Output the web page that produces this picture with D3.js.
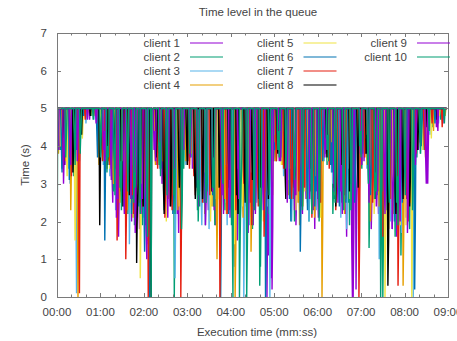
<!DOCTYPE html>
<html>
<head>
<meta charset="utf-8">
<script src="https://cdn.jsdelivr.net/npm/d3@7"></script>
<style>
  body { margin: 0; background: #fff; }
  svg { display: block; }
  text { font-family: "Liberation Sans", Arial, sans-serif; font-size: 11.5px; fill: #444; }
</style>
</head>
<body>
<svg id="chart"></svg>
<script>
// Series names and gnuplot default colours
const clientNames = ['client 1', 'client 2', 'client 3', 'client 4', 'client 5',
                     'client 6', 'client 7', 'client 8', 'client 9', 'client 10'];
const clientColors = ['#9400d3', '#009e73', '#56b4e9', '#e69f00', '#f0e442',
                      '#0072b2', '#e51e10', '#000000', '#9400d3', '#009e73'];

// Each client rests at the 5 s level. Every entry is a run of samples below it:
// [first second, value, value, ...] with one sample per second.
const client1 = [[3,4.2,3.9,4.6],[11,3.5,4.1],[19,4.0,3.3,4.4],[33,4.4,4.8],[45,4.7],[57,3.8,4.3,4.0],[67,3.7,4.2,3.4],[76,3.2,2.5,3.9],[85,1.6,2.9,3.6],[93,2.4,3.5,2.9],[103,2.0,3.2,2.6],[113,2.6,1.8,3.4],[122,1.9,2.8,1.4],[136,3.8,4.2,3.5],[145,3.0,3.6,4.1],[155,3.3,2.4,3.9],[166,2.2,3.1,1.7],[176,3.9,4.3,3.6],[187,3.4,4.0,3.7],[197,2.8,3.5,4.1],[208,3.1,2.3,3.8],[217,2.5,3.4,1.9],[229,3.3,2.2,3.9],[239,2.1,3.0,2.6],[249,1.5,2.7,3.4],[258,3.2,2.4],[270,2.9,1.9,3.6],[290,0,2.4,1.1],[296,0.5,3.0],[306,4.0,3.6,4.4],[316,3.5,4.1,3.0],[330,1.9,2.8,3.5],[343,3.5,2.6,4.1],[354,2.3,3.2,1.8],[366,4.0,4.4,3.8],[376,3.6,4.2,3.9],[387,3.4,2.5,3.9],[398,2.2,3.1,1.6],[409,0,1.8],[413,0.2,2.5,3.3],[424,3.6,4.1,3.8],[434,1.8,2.7,3.5],[443,3.1,2.2],[452,2.7,1.9,3.3],[461,2.5,3.4,1.8],[469,1.6,2.6,3.1],[481,2.9,2.1,3.7],[490,2.2,3.0],[499,3.9,4.4,4.1],[512,3.0,4.2],[524,4.5],[533,4.6]];
const client2 = [[5,3.9,4.5,3.4],[14,4.4,3.8],[23,3.2,4.0,2.9],[31,3.6,4.3],[48,4.8],[59,4.1,3.6,4.6],[69,3.3,4.0,3.9],[78,2.8,3.7,3.3],[88,3.6,2.7,3.2],[98,2.2,3.1,2.6],[107,1.9,2.8,3.5],[117,2.7,1.9,3.3],[125,1.5,2.6],[138,4.1,3.6,4.4],[148,2.3,3.3,2.7],[156,3.8,2.9],[162,0,2.6],[174,3.9,3.4,4.2],[185,3.7,4.3,3.9],[195,2.0,2.9,2.4],[206,3.7,2.8,3.2],[216,2.4,3.3,1.9],[231,3.1,2.3,3.7],[241,1.9,2.8],[252,0,1.6,2.9],[268,2.5,3.3,1.8],[281,0.8,2.4],[292,3.0,2.2,3.6],[303,3.6,4.2,3.9],[314,3.8,4.3,3.4],[326,2.6,3.5,2.0],[337,3.2,2.4,3.9],[348,2.0,2.9,3.4],[359,3.5,2.6,3.1],[371,3.8,4.4,3.5],[381,2.2,3.0,2.6],[392,3.6,2.7,3.2],[402,2.5,3.4,1.9],[420,3.9,3.4,4.3],[431,1.3,2.5,3.0],[440,3.4,2.6],[450,0,1.9,2.8],[465,2.2,3.1,1.6],[475,1.1,2.4,2.9],[486,2.6,1.8,3.3],[497,3.7,4.3],[506,4.2,3.9],[519,4.5],[530,4.7]];
const client3 = [[7,4.5,3.8],[16,3.4,4.2,3.0],[26,2.8,0.1,3.4],[40,4.6],[51,4.7],[62,3.9,4.4,3.5],[72,4.0,3.2],[81,2.3,3.3,2.8],[90,3.3,2.4,3.9],[100,1.4,2.7,3.2],[110,2.9,2.1,3.6],[120,2.1,3.0],[127,3.5,1.2],[140,3.7,4.2,3.4],[150,3.0,2.2,3.7],[163,0.5,2.3],[177,4.0,3.5,4.4],[188,3.9,3.3,4.2],[199,2.7,1.9,3.4],[210,1.8,2.9,2.4],[219,3.3,2.6,3.8],[233,2.5,3.4,1.9],[244,1.6,0.8,2.7],[258,0,2.2],[266,1.9,3.0,2.4],[275,3.4,2.5,3.8],[294,0,1.6],[301,4.2,3.7,4.5],[311,3.5,4.0,3.2],[324,2.0,2.8,3.5],[335,3.7,2.9,3.3],[346,2.5,3.4,2.0],[357,3.1,2.3,3.8],[368,4.1,3.6,4.4],[379,3.3,4.0,3.0],[390,2.6,3.5,2.1],[400,1.8,2.7],[420,4.2,3.7,4.5],[428,3.4,4.0],[437,3.5,2.6,3.0],[445,1.0,2.3],[460,2.9,2.0,3.5],[474,2.0,2.8,1.7],[484,3.3,2.5],[492,0,1.4],[502,3.8,4.4],[515,4.3],[527,4.6]];
const client4 = [[2,3.8,4.4],[10,4.3,3.6,4.0],[19,2.3,3.5],[28,3.0,0,2.2],[43,4.9],[58,3.5,4.1,4.4],[68,3.9,3.4],[77,3.7,3.0,3.4],[87,2.5,3.4,2.9],[96,3.2,2.3,3.8],[105,2.1,3.0,2.6],[115,3.4,2.7],[124,2.3,1.5],[135,4.0,3.5,4.3],[144,3.4,4.0,3.6],[153,3.4,2.6,3.9],[167,2.3,3.2,2.7],[177,4.2,3.6],[183,3.5,4.1,3.8],[193,3.6,2.8,3.3],[204,2.2,3.0,2.5],[213,3.2,2.4],[220,2.6,1.0,2.9],[232,2.6,3.5,2.2],[246,0,1.3],[256,3.0,2.1,3.6],[268,1.2,2.4,3.0],[278,2.9,3.7,2.4],[287,3.7,2.8],[299,3.9,4.3,3.6],[310,4.1,3.5,4.4],[320,2.7,3.5],[333,2.5,3.3,1.9],[344,3.4,2.6,3.9],[355,2.8,2.1,3.4],[366,0,2.0],[377,3.8,4.3,3.5],[388,3.7,2.9,3.2],[397,2.2,3.0,2.6],[406,3.0,2.3],[420,3.6,4.2,3.9],[433,2.0,2.9,3.5],[444,3.1,2.4],[456,2.3,3.1,1.8],[464,2.9,2.2,3.4],[478,0.3,1.9],[488,2.5,3.3,2.0],[498,4.0,4.5],[508,4.2,3.7],[520,4.4],[536,4.8]];
const client5 = [[4,4.6,4.0],[13,3.9,3.2,4.4],[24,3.6,1.5,2.9],[35,4.2,4.7],[49,4.8],[61,4.3,3.9],[71,3.6,4.2,3.4],[80,3.9,3.1],[91,2.6,3.5,3.0],[101,3.4,2.5,3.9],[110,2.8,2.3,3.2],[115,0.5,2.1],[126,2.9,3.6],[139,3.9,4.4,3.6],[149,2.6,3.4,2.0],[159,3.9,3.0],[169,2.4,3.3,2.8],[180,4.2,3.7],[191,2.9,3.6,3.5],[202,3.8,3.0,3.4],[212,2.0,2.8,3.3],[223,3.4,2.6],[235,2.8,3.6,2.3],[245,1.4,2.6],[255,3.2,2.4,3.7],[265,2.6,3.4],[276,3.9,3.1,3.5],[285,2.0,2.9],[297,3.5,2.7],[308,3.8,4.3,3.5],[319,3.9,3.1],[329,3.0,2.3,3.6],[340,2.4,3.2,2.8],[351,3.6,2.8],[362,2.6,3.4,2.1],[373,4.0,3.6,4.4],[384,2.7,3.5],[395,3.8,3.0,3.4],[405,2.6,3.3],[416,3.4,2.6,3.0],[426,3.9,4.4,3.5],[438,2.2,3.0],[453,0,1.7,2.6],[462,3.0,2.3],[472,2.4,3.2,1.9],[482,1.9,2.7],[490,0,2.4],[504,4.4,3.9],[517,4.2],[528,4.8]];
const client6 = [[6,4.0,3.3],[17,3.1,4.0,3.6],[26,4.5,3.9],[37,4.8],[55,4.4,3.7],[66,1.5,3.4,4.0],[75,3.4,3.9],[84,2.7,3.5,3.2],[94,3.8,3.0,3.4],[103,2.2,3.1,2.6],[112,3.2,2.4],[120,2.5,1.2,2.8],[128,0,2.2],[142,3.7,4.3,3.4],[152,3.6,2.8,3.2],[160,2.2,3.0],[170,3.2,2.4,3.7],[181,3.6,4.2],[192,3.7,2.9,3.3],[203,2.5,3.3,1.9],[214,3.5,2.7],[226,0,2.0],[236,2.9,2.2,3.4],[250,2.2,3.0],[260,3.5,2.7,3.1],[271,2.4,3.2],[288,0,1.9,2.6],[299,3.6,4.1,3.9],[309,3.7,4.3],[321,2.6,3.4,2.0],[336,1.2,2.5],[345,3.1,2.3,3.7],[356,2.4,3.2,2.8],[367,3.6,4.2],[378,3.5,4.1,3.3],[389,3.1,2.4,3.6],[399,2.5,3.3],[410,3.3,2.5,3.0],[422,3.8,4.3],[432,3.5,2.7,3.2],[442,2.7,3.4],[455,3.1,2.3],[466,2.0,2.8,3.3],[476,3.2,2.5],[485,2.1,2.9],[494,0.2,2.2],[503,4.0,4.5],[522,4.6]];
const client7 = [[8,4.3,3.6],[18,3.7,4.3,3.2],[30,2.4,0.1],[39,4.7],[53,4.8],[63,3.6,4.2,4.1],[73,3.5,4.0],[83,1.5,2.6,3.2],[95,1.0,2.3],[104,2.7,3.5,2.2],[113,3.3,2.5],[119,2.4,3.1],[126,0,1.9],[139,3.4,4.0,3.8],[149,2.1,2.9,3.5],[158,3.0,2.3],[171,0,2.1],[182,3.9,3.4],[189,3.2,3.8,2.7],[200,3.3,2.5,3.8],[211,2.7,3.5],[225,0,1.8],[234,3.0,2.2,3.6],[247,2.3,3.1],[257,3.8,3.0,3.4],[267,2.5,3.3,1.9],[277,3.2,2.4],[286,1.6,2.7],[302,4.1,3.6,4.4],[313,3.4,4.0],[323,3.4,2.6,3.1],[334,2.8,3.6],[341,3.6,2.9],[352,2.1,2.9,3.4],[363,3.3,2.5],[374,3.9,4.3,3.4],[385,2.3,3.1],[396,3.5,2.7,3.2],[417,0,1.6],[425,3.7,4.2,3.9],[436,2.5,3.3],[448,2.0,2.8,1.6],[459,3.4,2.6],[471,0.3,1.8],[483,2.6,3.4,2.0],[496,3.8,4.3],[507,4.3,3.9],[518,4.6],[532,4.5]];
const client8 = [[9,4.1,3.5],[22,3.3,4.0],[34,4.3],[46,4.8],[59,1.9,3.6,4.2],[70,3.5,4.1],[79,4.1,3.4],[89,2.8,3.6,2.4],[99,3.5,2.7],[110,0.9,2.4,3.0],[118,3.1,2.4],[129,2.8,0],[137,3.7,4.3],[147,2.9,2.2,3.4],[157,2.4,3.2],[168,3.7,2.9,3.3],[179,4.1,3.5],[190,3.4,2.6,3.0],[201,2.6,3.4],[213,3.5,2.8,3.2],[224,2.9,3.6],[237,3.6,2.9],[248,2.7,3.4,2.2],[259,3.2,2.5],[269,3.9,3.1],[279,2.6,3.3,2.9],[291,3.4,2.6],[304,4.3,3.8,4.6],[315,3.3,2.6],[327,3.6,2.9,3.3],[339,2.9,3.6],[350,3.5,2.8,3.2],[361,2.7,3.4],[372,4.2,3.7],[383,2.9,3.6,2.4],[393,3.2,2.5],[404,2.8,3.5,3.0],[415,3.7,2.9],[427,3.8,4.3,3.5],[439,3.3,2.6],[457,0.3,1.5],[467,2.8,2.2,3.3],[477,3.4,2.6],[487,2.4,3.1],[498,3.9,4.4],[511,4.5],[525,4.7]];
const client9 = [[1,4.4,3.9],[9,3.0,3.8],[18,4.1,3.5],[28,3.6,4.3],[42,4.7],[54,4.6],[64,3.9,4.4,3.6],[74,3.9,3.1],[82,2.1,3.0,2.6],[92,2.9,2.2,3.5],[102,2.6,3.4],[108,1.7,2.5],[116,2.2,3.0,2.6],[123,1.8,1.0],[134,3.9,4.4,3.6],[143,3.4,4.0],[152,2.9,2.1,3.5],[161,3.5,2.8],[173,3.7,4.2,3.9],[184,3.7,4.3],[194,3.2,2.4,3.7],[205,1.9,2.7],[215,2.8,3.6,2.3],[227,3.5,2.7],[238,2.3,3.1,2.7],[250,3.4,2.6],[264,1.7,2.6,3.2],[274,2.2,3.0],[284,3.0,2.3,3.6],[297,0.2,1.9],[307,3.9,4.4,3.6],[317,3.3,2.5],[328,2.3,3.1,2.7],[338,3.0,2.2],[349,2.6,3.4,3.0],[360,2.9,2.1],[370,3.7,4.2,3.9],[382,3.6,2.8],[392,2.8,3.5,2.2],[407,1.5,0],[419,3.8,4.3,3.5],[430,3.3,2.5],[441,2.4,3.2,2.8],[452,3.0,2.2],[463,1.8,2.7,3.3],[473,2.7,2.0],[484,1.7,2.6],[495,3.5,4.1],[509,3.8,3.0,4.2],[526,4.4]];
const client10 = [[0,0],[12,3.7,4.3],[24,4.2,3.5],[32,3.8,4.4],[50,4.7],[60,3.7,4.3],[69,3.4,4.0,3.7],[79,3.5,2.7],[87,2.9,3.6,2.3],[97,3.6,2.8],[106,2.5,3.3,2.9],[114,3.0,2.2],[124,2.7,1.6],[130,0],[141,3.5,4.1,3.2],[151,3.5,2.7],[161,2.7,3.4,2.2],[172,1.8,2.6],[183,3.8,4.3],[194,2.3,3.1,2.7],[205,3.3,2.5],[215,2.9,3.7,2.4],[228,3.8,3.0],[242,2.0,0],[253,2.0,2.8,3.4],[262,0,1.5],[272,3.0,2.3],[280,0.3,2.0,2.7],[293,2.7,3.5],[305,3.9,4.4,3.7],[316,3.4,4.0],[327,3.9,3.1,3.5],[339,2.3,3.0],[351,2.9,2.2,3.5],[362,2.0,2.8],[373,3.9,4.3,3.6],[384,2.5,3.3],[395,3.0,2.3,3.6],[406,2.3,3.1],[418,4.0,4.4,3.7],[429,3.8,3.0],[439,2.6,3.3,2.8],[447,0,1.6],[458,3.2,2.5],[469,2.5,3.2,1.9],[480,3.5,2.7],[491,2.3,3.0],[501,4.3,3.8],[514,4.4],[535,4.6]];
const clientRuns = [client1, client2, client3, client4, client5, client6, client7, client8, client9, client10];

const BASE_LEVEL = 5;       // resting level of every client (s)
const END_TIME = 538;       // last sample (s)
const SAMPLE_STEP = 1;      // seconds between samples
const dataGaps = [[131.3, 132.3]]; // short break in all the logs

// Axis ticks
const xTickSeconds = [0, 60, 120, 180, 240, 300, 360, 420, 480, 540];
const xMinorStep = 20;
const yTicks = [0, 1, 2, 3, 4, 5, 6, 7];

// Turn the run list into a point list for d3.line
function buildSeries(runs) {
  const pts = [];
  if (runs[0][0] > 0) pts.push({ t: 0, v: BASE_LEVEL });
  runs.forEach(run => {
    const start = run[0], vals = run.slice(1);
    if (start > 0) pts.push({ t: start - SAMPLE_STEP, v: BASE_LEVEL });
    vals.forEach((v, k) => pts.push({ t: start + k * SAMPLE_STEP, v: v }));
    pts.push({ t: start + vals.length * SAMPLE_STEP, v: BASE_LEVEL });
  });
  pts.push({ t: END_TIME, v: BASE_LEVEL });
  dataGaps.forEach(([g0, g1]) => {
    pts.push({ t: g0, v: BASE_LEVEL }, { t: (g0 + g1) / 2, v: null }, { t: g1, v: BASE_LEVEL });
  });
  return pts.sort((a, b) => a.t - b.t);
}

function formatMMSS(s) {
  const m = Math.floor(s / 60), sec = s % 60;
  return String(m).padStart(2, '0') + ':' + String(sec).padStart(2, '0');
}

function drawChart() {
  const width = 457, height = 341;
  const margin = { top: 33, right: 9, bottom: 44, left: 57 };
  const innerWidth = width - margin.left - margin.right;
  const innerHeight = height - margin.top - margin.bottom;

  const svg = d3.select('#chart').attr('width', width).attr('height', height);

  const x = d3.scaleLinear().domain([0, 540]).range([0, innerWidth]);
  const y = d3.scaleLinear().domain([0, 7]).range([innerHeight, 0]);

  const g = svg.append('g').attr('transform', `translate(${margin.left},${margin.top})`);

  svg.append('defs').append('clipPath').attr('id', 'plot-clip')
    .append('rect').attr('width', innerWidth).attr('height', innerHeight);

  // Series
  const line = d3.line()
    .defined(d => d.v !== null)
    .x(d => x(d.t))
    .y(d => y(d.v));

  const series = g.append('g').attr('clip-path', 'url(#plot-clip)');
  clientRuns.forEach((runs, i) => {
    series.append('path')
      .attr('d', line(buildSeries(runs)))
      .attr('fill', 'none')
      .attr('stroke', clientColors[i])
      .attr('stroke-width', 1.4);
  });

  // Ticks (gnuplot style: inward, mirrored)
  const axisColor = '#7a7a7a';
  const minorTicks = d3.range(0, 541, xMinorStep).filter(s => s % 60 !== 0);
  const ticks = g.append('g').attr('stroke', axisColor).attr('stroke-width', 1);
  xTickSeconds.forEach(s => {
    const px = Math.round(x(s)) + 0.5;
    ticks.append('line').attr('x1', px).attr('x2', px).attr('y1', innerHeight).attr('y2', innerHeight - 4);
    ticks.append('line').attr('x1', px).attr('x2', px).attr('y1', 0).attr('y2', 4);
  });
  minorTicks.forEach(s => {
    const px = Math.round(x(s)) + 0.5;
    ticks.append('line').attr('x1', px).attr('x2', px).attr('y1', innerHeight).attr('y2', innerHeight - 2.5);
    ticks.append('line').attr('x1', px).attr('x2', px).attr('y1', 0).attr('y2', 2.5);
  });
  yTicks.forEach(v => {
    const py = Math.round(y(v)) + 0.5;
    ticks.append('line').attr('x1', 0).attr('x2', 4).attr('y1', py).attr('y2', py);
    ticks.append('line').attr('x1', innerWidth).attr('x2', innerWidth - 4).attr('y1', py).attr('y2', py);
  });

  // Border
  g.append('rect')
    .attr('x', 0.5).attr('y', 0.5)
    .attr('width', innerWidth).attr('height', innerHeight)
    .attr('fill', 'none').attr('stroke', axisColor).attr('stroke-width', 1);

  // Tick labels
  g.selectAll('.xlabel').data(xTickSeconds).enter().append('text')
    .attr('class', 'xlabel')
    .attr('x', d => x(d)).attr('y', innerHeight + 19)
    .attr('text-anchor', 'middle')
    .text(d => formatMMSS(d));

  g.selectAll('.ylabel').data(yTicks).enter().append('text')
    .attr('class', 'ylabel')
    .attr('x', -10).attr('y', d => y(d) + 4)
    .attr('text-anchor', 'end')
    .text(d => d);

  // Titles
  svg.append('text').attr('x', 258).attr('y', 16).attr('text-anchor', 'middle').text('Time level in the queue');
  svg.append('text').attr('x', 257).attr('y', 336).attr('text-anchor', 'middle').text('Execution time (mm:ss)');
  svg.append('text').attr('transform', 'translate(29,165) rotate(-90)').attr('text-anchor', 'middle').text('Time (s)');

  // Legend: 3 columns of 4 rows
  const legend = svg.append('g');
  clientNames.forEach((name, i) => {
    const col = Math.floor(i / 4), row = i % 4;
    const textRight = 180 + col * 113.5;
    const cy = 43 + row * 14;
    legend.append('text').attr('x', textRight).attr('y', cy + 4).attr('text-anchor', 'end').text(name);
    legend.append('line')
      .attr('x1', textRight + 10).attr('x2', textRight + 43)
      .attr('y1', cy).attr('y2', cy)
      .attr('stroke', clientColors[i]).attr('stroke-width', 1.2);
  });
}

drawChart();
</script>
</body>
</html>
